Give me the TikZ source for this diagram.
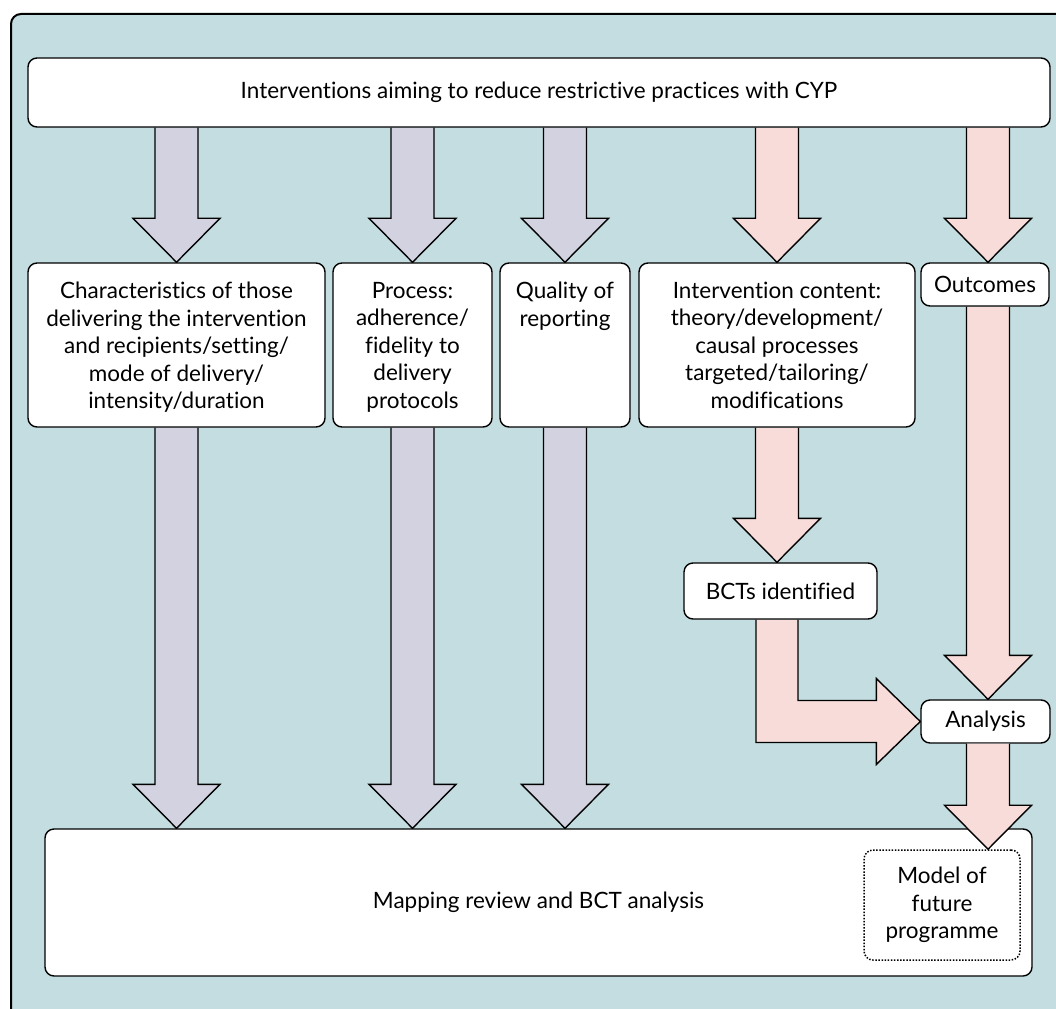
\documentclass[tikz,border=0pt]{standalone}
\usepackage{fontspec}
\setmainfont{Lato}[Ligatures=NoCommon]
\usetikzlibrary{calc}

\definecolor{panel}{HTML}{C3DDE0}
\definecolor{greyarrow}{HTML}{D2D2E1}
\definecolor{pinkarrow}{HTML}{F8DCDA}

\pgfdeclarelayer{bg}
\pgfdeclarelayer{mid}
\pgfdeclarelayer{front}
\pgfsetlayers{bg,mid,main,front}

\tikzset{
  box/.style={draw=black, line width=1.4pt, fill=white, rounded corners=9pt,
    inner sep=0pt, align=center, font=\fontsize{22.5}{27.5}\selectfont},
  dotbox/.style={draw=black, line width=1.5pt, dash pattern=on 1.5pt off 1.6pt,
    fill=white, rounded corners=9pt, inner sep=0pt, align=center,
    font=\fontsize{22.5}{27.5}\selectfont},
  arrowline/.style={draw=black, line width=1.4pt, line join=miter},
}

% downward block arrow: fill colour, centre x, source anchor, target anchor
\newcommand\blockdown[4]{%
  \draw[arrowline, fill=#1] let \p1=(#3), \p2=(#4) in
    (#2pt-21.5pt,\y1) -- (#2pt-21.5pt,\y2+44pt) -- (#2pt-43.5pt,\y2+44pt)
    -- (#2pt,\y2) -- (#2pt+43.5pt,\y2+44pt) -- (#2pt+21.5pt,\y2+44pt)
    -- (#2pt+21.5pt,\y1);}

% box whose text starts at the top
\newcommand\topbox[3]{\parbox[c][164pt][t]{#1pt}{\centering\vspace*{#2pt}#3}}

\begin{document}
\begin{tikzpicture}[x=1pt, y=-1pt]
  \useasboundingbox (0,0) rectangle (1056,1008);

  \begin{pgfonlayer}{bg}
    \clip (0,0) rectangle (1056,1008);
    \draw[line width=2pt, fill=panel, rounded corners=10pt] (11,14) rectangle (1080,1030);
  \end{pgfonlayer}

  % boxes
  \node[box, minimum width=1022pt, minimum height=69pt] (top) at (539,92.5)
    {Interventions aiming to reduce restrictive practices with CYP};

  \node[box] (char) at (176.5,345) {\topbox{297}{19}{Characteristics of those\\
    delivering the intervention\\and recipients/setting/\\mode of delivery/\\intensity/duration}};
  \node[box] (proc) at (412.5,345) {\topbox{159}{19}{Process:\\adherence/\\fidelity to\\delivery\\protocols}};
  \node[box] (qual) at (565,345) {\topbox{130}{19}{Quality of\\reporting}};
  \node[box] (cont) at (777,345) {\topbox{276}{19}{Intervention content:\\theory/development/\\
    causal processes\\targeted/tailoring/\\modifications}};
  \node[box, minimum width=128pt, minimum height=43pt] (outc) at (985,284.5) {Outcomes};

  \node[box, minimum width=193pt, minimum height=56pt] (bcts) at (780.5,591) {BCTs identified};
  \node[box, minimum width=129pt, minimum height=43pt] (anal) at (985.5,721.5) {Analysis};

  \node[box, minimum width=987pt, minimum height=147pt] (map) at (538.5,902.5)
    {Mapping review and BCT analysis};

  % arrows from the top box and into the mapping box
  \begin{pgfonlayer}{mid}
    \blockdown{greyarrow}{176.5}{top.south}{char.north}
    \blockdown{greyarrow}{412.5}{top.south}{proc.north}
    \blockdown{greyarrow}{565}{top.south}{qual.north}
    \blockdown{pinkarrow}{777}{top.south}{cont.north}
    \blockdown{pinkarrow}{988}{top.south}{outc.north}

    \blockdown{greyarrow}{176.5}{char.south}{map.north}
    \blockdown{greyarrow}{412.5}{proc.south}{map.north}
    \blockdown{greyarrow}{565}{qual.south}{map.north}

    \blockdown{pinkarrow}{777}{cont.south}{bcts.north}
    \blockdown{pinkarrow}{988}{outc.south}{anal.north}

    % bent arrow from the BCTs box to the analysis box
    \draw[arrowline, fill=pinkarrow] let \p1=(bcts.south), \p2=(anal.west) in
      (756pt,\y1) -- (756pt,\y2-21pt) -- (\x2-44pt,\y2-21pt) -- (\x2-44pt,\y2-43pt)
      -- (\x2,\y2) -- (\x2-44pt,\y2+43pt) -- (\x2-44pt,\y2+21pt)
      -- (798pt,\y2+21pt) -- (798pt,\y1);
  \end{pgfonlayer}

  \begin{pgfonlayer}{front}
    \node[dotbox, minimum width=156pt, minimum height=110pt] (model) at (942,905)
      {Model of\\future\\programme};
    \blockdown{pinkarrow}{988}{anal.south}{model.north}
  \end{pgfonlayer}
\end{tikzpicture}
\end{document}
